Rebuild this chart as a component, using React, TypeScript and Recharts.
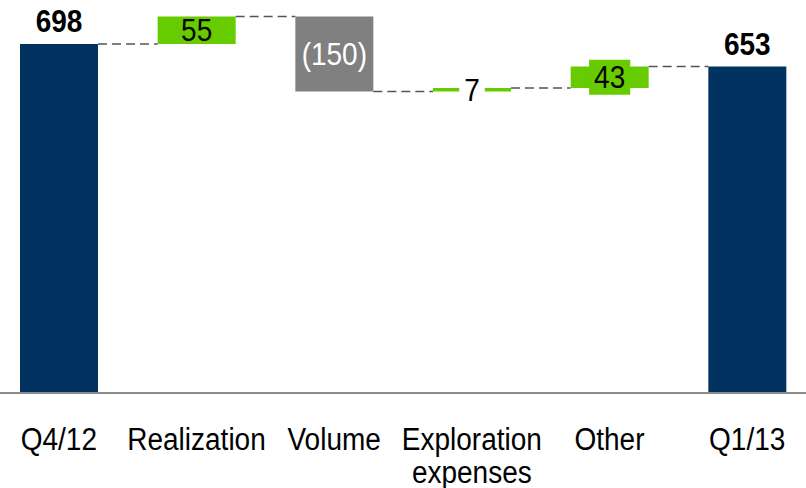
import React from 'react';
import { BarChart, Bar, XAxis, YAxis, LabelList } from 'recharts';

// Bridge from Q4/12 to Q1/13
const categories = ['Q4/12', 'Realization', 'Volume', 'Exploration expenses', 'Other', 'Q1/13'];
const changes = [698, 55, -150, 7, 43, 653];
const isTotal = [true, false, false, false, false, true];

const NAVY = '#02325f';
const GREEN = '#66cc00';
const GREY = '#808080';
const CONNECTOR = '#555555';
const FONT = '"Liberation Sans", Arial, Helvetica, sans-serif';

const CHART_W = 826;
const CHART_H = 488;
const BAR_SIZE = 78;
const STEP = CHART_W / categories.length;
// glyphs are drawn slightly tall
const STRETCH = 'scale(1 1.1)';

// running totals -> floating [low, high] ranges for each bar
let running = 0;
const rows = categories.map((name, i) => {
  const v = changes[i];
  let low: number;
  let high: number;
  if (isTotal[i]) {
    low = 0;
    high = v;
    running = v;
  } else {
    low = Math.min(running, running + v);
    high = Math.max(running, running + v);
    running += v;
  }
  return { name, range: [low, high], value: v, total: isTotal[i] };
});

const colorFor = (i: number) => (rows[i].total ? NAVY : rows[i].value < 0 ? GREY : GREEN);

const WaterfallBar = (props: any) => {
  const { x, y, width, height, index } = props;
  const row = rows[index];
  const top = Math.min(y, y + height);
  const h = Math.abs(height);
  const endY = row.total || row.value >= 0 ? top : top + h;
  const gap = STEP - width;
  return (
    <g>
      <rect x={x} y={top} width={width} height={h} fill={colorFor(index)} />
      {index < rows.length - 1 && (
        <line
          x1={x + width}
          x2={x + width + gap}
          y1={endY}
          y2={endY}
          stroke={CONNECTOR}
          strokeWidth={1.5}
          strokeDasharray="9 5"
        />
      )}
    </g>
  );
};

const BarLabel = (props: any) => {
  const { x, y, width, height, index } = props;
  const row = rows[index];
  const cx = x + width / 2;
  const top = Math.min(y, y + height);
  const h = Math.abs(height);

  if (row.total) {
    return (
      <text
        transform={`translate(${cx} ${top - 12}) ${STRETCH}`}
        textAnchor="middle"
        fontFamily={FONT}
        fontSize={28}
        fontWeight="bold"
        fill="#000"
      >
        {row.value}
      </text>
    );
  }

  const text = row.value < 0 ? `(${-row.value})` : `${row.value}`;
  const cy = top + h / 2;
  const textW = String(Math.abs(row.value)).length * 0.556 * 28;
  const boxW = textW + 10;
  const boxH = 35;
  // thin bars get a backing box so the number stays readable
  const box = h < 26;
  const boxFill = h < 10 ? '#fff' : colorFor(index);
  return (
    <g>
      {box && <rect x={cx - boxW / 2} y={cy - boxH / 2} width={boxW} height={boxH} fill={boxFill} />}
      <text
        transform={`translate(${cx} ${cy + 11}) ${STRETCH}`}
        textAnchor="middle"
        fontFamily={FONT}
        fontSize={28}
        fill={row.value < 0 ? '#fff' : '#000'}
      >
        {text}
      </text>
    </g>
  );
};

const CategoryTick = (props: any) => {
  const { x, y, payload } = props;
  const lines = String(payload.value).split(' ');
  return (
    <text
      transform={`translate(${x} ${y + 57}) ${STRETCH}`}
      textAnchor="middle"
      fontFamily={FONT}
      fontSize={28}
      fill="#000"
    >
      {lines.map((l, i) => (
        <tspan key={l} x={0} dy={i === 0 ? 0 : 30}>
          {l}
        </tspan>
      ))}
    </text>
  );
};

export default function App() {
  return (
    <div style={{ position: 'absolute', left: 0, top: 0, width: 806, height: 488, overflow: 'hidden', background: '#fff' }}>
      <div style={{ marginLeft: -10 }}>
        <BarChart width={CHART_W} height={CHART_H} data={rows} margin={{ top: 0, right: 0, bottom: 0, left: 0 }}>
          <XAxis
            dataKey="name"
            interval={0}
            height={95}
            tickLine={false}
            tickSize={0}
            tickMargin={0}
            axisLine={{ stroke: '#8c8c8c', strokeWidth: 2 }}
            tick={<CategoryTick />}
          />
          <YAxis hide domain={[0, 786]} allowDataOverflow />
          <Bar dataKey="range" barSize={BAR_SIZE} shape={<WaterfallBar />} isAnimationActive={false}>
            <LabelList dataKey="value" content={<BarLabel />} />
          </Bar>
        </BarChart>
      </div>
    </div>
  );
}
